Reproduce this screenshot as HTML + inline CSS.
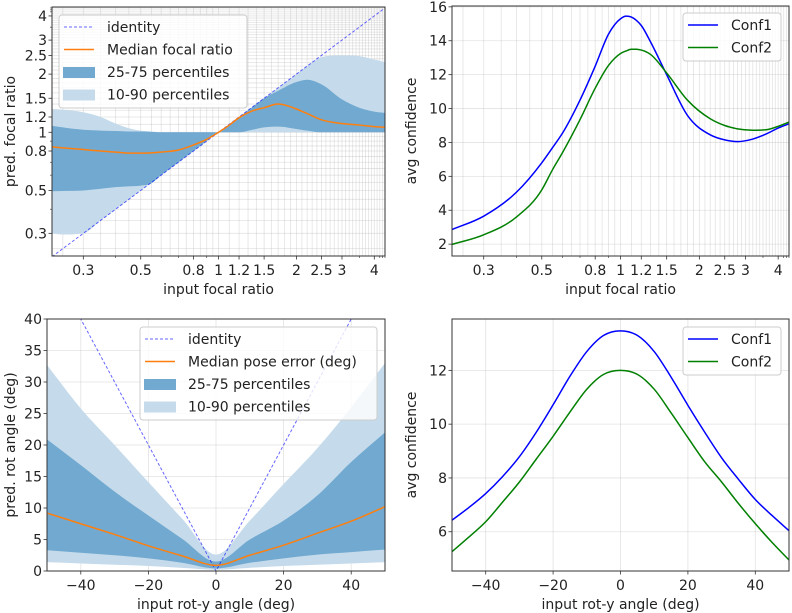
<!DOCTYPE html>
<html><head><meta charset="utf-8"><style>
html,body{margin:0;padding:0;background:#fff;}
svg{display:block;font-family:"DejaVu Sans","Liberation Sans",sans-serif;}
</style></head><body>
<svg id="fig" width="792" height="613" viewBox="0 0 792 613" xmlns="http://www.w3.org/2000/svg"></svg>
<script>
// ---------- data: top-left (focal ratio) ----------
const tlX = [0.227,0.25,0.3,0.35,0.4,0.45,0.5,0.55,0.6,0.7,0.8,0.9,1,1.1,1.2,1.35,1.5,1.7,2,2.2,2.5,3,3.5,4,4.4];
const tlMedian = [0.84,0.83,0.814,0.80,0.79,0.78,0.78,0.782,0.79,0.81,0.86,0.92,1,1.09,1.19,1.29,1.34,1.40,1.32,1.25,1.16,1.11,1.09,1.07,1.06];
const tl25 = [0.495,0.497,0.5,0.51,0.52,0.525,0.53,0.545,0.6,0.7,0.8,0.9,1,1.0,1.0,1.03,1.06,1.07,1.04,1.02,1.0,1.0,1.0,1.0,1.0];
const tl75 = [1.08,1.06,1.03,1.02,1.015,1.01,1.01,1.005,1.0,1.0,1.0,1.0,1,1.1,1.2,1.35,1.5,1.64,1.82,1.87,1.77,1.48,1.34,1.28,1.26];
const tl10 = [0.3,0.296,0.3,0.35,0.4,0.45,0.5,0.55,0.6,0.7,0.8,0.9,1,1.0,1.0,1.0,1.0,1.0,1.0,1.0,1.0,1.0,1.0,1.0,1.0];
const tl90 = [1.32,1.31,1.27,1.2,1.11,1.05,1.02,1.01,1.0,1.0,1.0,1.0,1,1.1,1.2,1.35,1.5,1.7,2.0,2.2,2.45,2.5,2.48,2.38,2.31];
const tlIdentity = [0.227,4.4];
const focalTicks = [0.3,0.5,0.8,1,1.2,1.5,2,2.5,3,4];
const focalTickLabels = ["0.3","0.5","0.8","1","1.2","1.5","2","2.5","3","4"];
// ---------- data: top-right ----------
const trX = [0.227,0.3,0.4,0.5,0.55,0.6,0.7,0.8,0.9,1.0,1.05,1.1,1.15,1.2,1.3,1.5,1.8,2.2,2.5,2.8,3.2,3.6,4,4.4];
const trConf1 = [2.86,3.65,5.06,6.8,7.7,8.55,10.5,12.5,14.4,15.3,15.45,15.4,15.2,14.9,13.95,12.0,9.6,8.45,8.15,8.05,8.2,8.5,8.85,9.1];
const trConf2 = [1.98,2.55,3.6,5.2,6.4,7.4,9.35,11.2,12.55,13.25,13.4,13.5,13.5,13.45,13.2,12.1,10.5,9.4,9.0,8.8,8.72,8.75,8.95,9.2];
const confTicksTop = [2,4,6,8,10,12,14,16];
// ---------- data: bottom-left ----------
const blX = [-50,-40,-30,-20,-10,0,10,20,30,40,50];
const blMedian = [9.2,7.5,5.8,4.0,2.4,0.9,2.5,4.1,6.0,7.9,10.2];
const bl25 = [3.3,2.9,2.5,2.0,1.3,0.4,1.3,2.0,2.6,3.0,3.4];
const bl75 = [20.9,16.8,12.6,8.8,5.1,1.5,5.0,8.0,12.0,17.3,22.0];
const bl10 = [1.4,1.2,1.0,0.8,0.5,0.2,0.5,0.8,1.0,1.2,1.4];
const bl90 = [32.7,25.8,20.0,14.1,8.3,2.6,8.0,13.8,19.5,26.0,33.0];
const blIdentityX = [-50,0,50];
const angleXTicks = [-40,-20,0,20,40];
const angleXTickLabels = ["\u221240","\u221220","0","20","40"];
const blYTicks = [0,5,10,15,20,25,30,35,40];
// ---------- data: bottom-right ----------
const brX = [-50,-45,-40,-35,-30,-25,-20,-15,-10,-5,0,5,10,15,20,25,30,35,40,45,50];
const brConf1 = [6.43,6.9,7.42,8.05,8.79,9.7,10.72,11.78,12.7,13.3,13.47,13.3,12.7,11.75,10.7,9.7,8.75,7.95,7.2,6.6,6.04];
const brConf2 = [5.26,5.8,6.37,7.1,7.85,8.7,9.55,10.45,11.3,11.85,12.0,11.85,11.3,10.42,9.5,8.6,7.85,7.05,6.3,5.6,4.95];
const brYTicks = [6,8,10,12];

const NS = "http://www.w3.org/2000/svg";
const fig = document.getElementById("fig");
function mk(tag, attrs, parent) {
  const e = document.createElementNS(NS, tag);
  for (const k in attrs) e.setAttribute(k, attrs[k]);
  (parent || fig).appendChild(e);
  return e;
}
function smooth(pts, move) {
  const n = pts.length;
  let d = (move ? "M" : "L") + pts[0][0].toFixed(2) + "," + pts[0][1].toFixed(2);
  if (n < 3) { for (let i = 1; i < n; i++) d += "L" + pts[i][0].toFixed(2) + "," + pts[i][1].toFixed(2); return d; }
  const h = [], s = [];
  for (let i = 0; i < n - 1; i++) { h.push(pts[i + 1][0] - pts[i][0]); s.push((pts[i + 1][1] - pts[i][1]) / (h[i] || 1e-9)); }
  const m = new Array(n);
  m[0] = s[0]; m[n - 1] = s[n - 2];
  for (let i = 1; i < n - 1; i++) {
    if (s[i - 1] * s[i] <= 0) m[i] = 0;
    else m[i] = (s[i - 1] * h[i] + s[i] * h[i - 1]) / (h[i - 1] + h[i]);
    const lim = 3 * Math.min(Math.abs(s[i - 1]), Math.abs(s[i]));
    if (Math.abs(m[i]) > lim) m[i] = Math.sign(m[i]) * lim;
  }
  for (let i = 0; i < n - 1; i++) {
    const dx = h[i] / 3;
    const c1 = [pts[i][0] + dx, pts[i][1] + m[i] * dx];
    const c2 = [pts[i + 1][0] - dx, pts[i + 1][1] - m[i + 1] * dx];
    d += "C" + c1[0].toFixed(2) + "," + c1[1].toFixed(2) + " " + c2[0].toFixed(2) + "," + c2[1].toFixed(2) + " " + pts[i + 1][0].toFixed(2) + "," + pts[i + 1][1].toFixed(2);
  }
  return d;
}
function makeScale(p0, p1, v0, v1, log) {
  if (log) { const a = Math.log10(v0), b = Math.log10(v1); return v => p0 + (Math.log10(v) - a) / (b - a) * (p1 - p0); }
  return v => p0 + (v - v0) / (v1 - v0) * (p1 - p0);
}
let clipId = 0;
function panel(c) {
  const g = mk("g", {});
  
  
  c.sx = makeScale(c.x0, c.x1, c.xmin, c.xmax, c.xlog);
  c.sy = makeScale(c.y1, c.y0, c.ymin, c.ymax, c.ylog);
  const id = "clip" + (clipId++);
  const cp = mk("clipPath", { id: id }, g);
  mk("rect", { x: c.x0, y: c.y0, width: c.x1 - c.x0, height: c.y1 - c.y0 }, cp);
  c.g = g;
  c.plot = mk("g", { "clip-path": "url(#" + id + ")" }, g);
  
  
  const grid = mk("g", { stroke: "#b0b0b0", "stroke-width": 0.8, "stroke-opacity": 0.35 }, c.plot);
  
  
  (c.xgrid || []).forEach(v => { const x = c.sx(v); mk("line", { x1: x, x2: x, y1: c.y0, y2: c.y1 }, grid); });
  (c.ygrid || []).forEach(v => { const y = c.sy(v); mk("line", { x1: c.x0, x2: c.x1, y1: y, y2: y }, grid); });
  return c;
}
function finishAxes(c) {
  const g = c.g;
  const fr = mk("rect", { x: c.x0, y: c.y0, width: c.x1 - c.x0, height: c.y1 - c.y0, fill: "none", stroke: "#333", "stroke-width": 1 }, g);
  
  
  const xa = mk("g", { "font-size": 14, fill: "#222", "text-anchor": "middle" }, g);
  
  
  (c.xminor || []).forEach(v => { const x = c.sx(v); mk("line", { x1: x, x2: x, y1: c.y1, y2: c.y1 + 2, stroke: "#333", "stroke-width": 0.6 }, xa); });
  c.xticks.forEach((v, i) => {
    const x = c.sx(v);
    mk("line", { x1: x, x2: x, y1: c.y1, y2: c.y1 + 3.5, stroke: "#333", "stroke-width": 0.8 }, xa);
    const t = mk("text", { x: x, y: c.y1 + 19 }, xa);
    t.textContent = c.xlabels ? c.xlabels[i] : String(v);
    
    
  });
  const xt = mk("text", { x: (c.x0 + c.x1) / 2, y: c.y1 + 38, "font-size": 14, fill: "#222", "text-anchor": "middle" }, g);
  xt.textContent = c.xtitle;
  
  
  const ya = mk("g", { "font-size": 14, fill: "#222", "text-anchor": "end" }, g);
  
  
  (c.yminor || []).forEach(v => { const y = c.sy(v); mk("line", { x1: c.x0 - 2, x2: c.x0, y1: y, y2: y, stroke: "#333", "stroke-width": 0.6 }, ya); });
  c.yticks.forEach((v, i) => {
    const y = c.sy(v);
    mk("line", { x1: c.x0 - 3.5, x2: c.x0, y1: y, y2: y, stroke: "#333", "stroke-width": 0.8 }, ya);
    const t = mk("text", { x: c.x0 - 5, y: y + 5 }, ya);
    t.textContent = c.ylabels ? c.ylabels[i] : String(v);
    
    
  });
  const yt = mk("text", { x: c.ytitleX, y: (c.y0 + c.y1) / 2, "font-size": 14, fill: "#222", "text-anchor": "middle", transform: "rotate(-90 " + c.ytitleX + " " + (c.y0 + c.y1) / 2 + ")" }, g);
  yt.textContent = c.ytitle;
  
  
}
function line(c, xs, ys, color, dash, w, name) {
  const pts = xs.map((x, i) => [c.sx(x), c.sy(ys[i])]);
  const p = mk("path", { d: dash ? "M" + pts.map(q => q[0] + "," + q[1]).join("L") : smooth(pts, true), fill: "none", stroke: color, "stroke-width": w, "stroke-dasharray": dash || "none", "stroke-opacity": dash ? 0.6 : 1, "stroke-linejoin": "round" }, c.plot);
  
  
}
function band(c, xs, lo, hi, color, name) {
  const up = xs.map((x, i) => [c.sx(x), c.sy(hi[i])]);
  const dn = xs.map((x, i) => [c.sx(x), c.sy(lo[i])]).reverse();
  const p = mk("path", { d: smooth(up, true) + smooth(dn, false) + "Z", fill: color, stroke: "none" }, c.plot);
  
  
}
function legend(x, y, w, h, entries) {
  const g = mk("g", {});
  
  
  mk("rect", { x: x, y: y, width: w, height: h, rx: 3, fill: "#fff", "fill-opacity": 0.8, stroke: "#ccc", "stroke-width": 1 }, g);
  entries.forEach((e, i) => {
    const cy = y + 12 + i * 22.5;
    const eg = mk("g", {}, g);
    
    
    if (e.type === "patch") mk("rect", { x: x + 4, y: cy - 5, width: 32, height: 11, fill: e.color }, eg);
    else mk("line", { x1: x + 5, x2: x + 35, y1: cy, y2: cy, stroke: e.color, "stroke-width": e.w || 1.5, "stroke-dasharray": e.dash || "none", "stroke-opacity": e.dash ? 0.6 : 1 }, eg);
    const t = mk("text", { x: x + 48, y: cy + 5, "font-size": 14, fill: "#222" }, eg);
    t.textContent = e.label;
  });
}
const LIGHT = "#c5dbeb", DARK = "#71a9d0", ORANGE = "#ff7f0e";
const logGrid = [];
for (let v = 0.25; v < 1; v += 0.05) logGrid.push(+v.toFixed(2));
for (let v = 1; v <= 4.41; v += 0.1) logGrid.push(+v.toFixed(2));
const xminorLog = [0.4,0.6,0.7,0.9,3.5,4.2,4.3,4.4];

// ---- panel 1 ----
const p1 = panel({ name: "focal-ratio-panel", x0: 52, x1: 385, y0: 7, y1: 256, xmin: 0.227, xmax: 4.4, ymin: 0.229, ymax: 4.45, xlog: true, ylog: true, xgrid: logGrid, ygrid: logGrid });
band(p1, tlX, tl10, tl90, LIGHT, "band-10-90");
band(p1, tlX, tl25, tl75, DARK, "band-25-75");
line(p1, tlIdentity, tlIdentity, "#0000ff", "3,2", 1, "identity-line");
line(p1, tlX, tlMedian, ORANGE, null, 1.5, "median-line");
Object.assign(p1, { xticks: focalTicks, xlabels: focalTickLabels, yticks: focalTicks, ylabels: focalTickLabels, xminor: xminorLog, yminor: [0.4,0.6,0.7,0.9,3.5,4.2,4.3,4.4], xtitle: "input focal ratio", ytitle: "pred. focal ratio", ytitleX: 15 });
finishAxes(p1);
legend(59, 15, 188, 93, [
  { type: "line", color: "#0000ff", dash: "3,2", w: 1, label: "identity" },
  { type: "line", color: ORANGE, label: "Median focal ratio" },
  { type: "patch", color: DARK, label: "25-75 percentiles" },
  { type: "patch", color: LIGHT, label: "10-90 percentiles" }]);

// ---- panel 2 ----
const p2 = panel({ name: "focal-confidence-panel", x0: 452, x1: 789, y0: 6, y1: 256, xmin: 0.227, xmax: 4.4, ymin: 1.3, ymax: 16.05, xlog: true, ylog: false, xgrid: logGrid, ygrid: confTicksTop });
line(p2, trX, trConf1, "#0000ff", null, 1.5, "conf1-line");
line(p2, trX, trConf2, "#008000", null, 1.5, "conf2-line");
Object.assign(p2, { xticks: focalTicks, xlabels: focalTickLabels, yticks: confTicksTop, xminor: xminorLog, xtitle: "input focal ratio", ytitle: "avg confidence", ytitleX: 416 });
finishAxes(p2);
legend(683, 13, 98, 48, [
  { type: "line", color: "#0000ff", label: "Conf1" },
  { type: "line", color: "#008000", label: "Conf2" }]);

// ---- panel 3 ----
const p3 = panel({ name: "rot-angle-panel", x0: 47, x1: 385, y0: 319, y1: 571, xmin: -50, xmax: 50, ymin: 0, ymax: 40, xgrid: angleXTicks, ygrid: blYTicks });
band(p3, blX, bl10, bl90, LIGHT, "band-10-90");
band(p3, blX, bl25, bl75, DARK, "band-25-75");
line(p3, blIdentityX, blIdentityX.map(Math.abs), "#0000ff", "3,2", 1, "identity-line");
line(p3, blX, blMedian, ORANGE, null, 1.5, "median-line");
Object.assign(p3, { xticks: angleXTicks, xlabels: angleXTickLabels, yticks: blYTicks, xtitle: "input rot-y angle (deg)", ytitle: "pred. rot angle (deg)", ytitleX: 15 });
finishAxes(p3);
legend(140, 327, 237, 93, [
  { type: "line", color: "#0000ff", dash: "3,2", w: 1, label: "identity" },
  { type: "line", color: ORANGE, label: "Median pose error (deg)" },
  { type: "patch", color: DARK, label: "25-75 percentiles" },
  { type: "patch", color: LIGHT, label: "10-90 percentiles" }]);

// ---- panel 4 ----
const p4 = panel({ name: "rot-confidence-panel", x0: 452, x1: 789, y0: 319, y1: 571, xmin: -50, xmax: 50, ymin: 4.54, ymax: 13.91, xgrid: angleXTicks, ygrid: brYTicks });
line(p4, brX, brConf1, "#0000ff", null, 1.5, "conf1-line");
line(p4, brX, brConf2, "#008000", null, 1.5, "conf2-line");
Object.assign(p4, { xticks: angleXTicks, xlabels: angleXTickLabels, yticks: brYTicks, xtitle: "input rot-y angle (deg)", ytitle: "avg confidence", ytitleX: 416 });
finishAxes(p4);
legend(683, 327, 98, 48, [
  { type: "line", color: "#0000ff", label: "Conf1" },
  { type: "line", color: "#008000", label: "Conf2" }]);
</script>
</body></html>
